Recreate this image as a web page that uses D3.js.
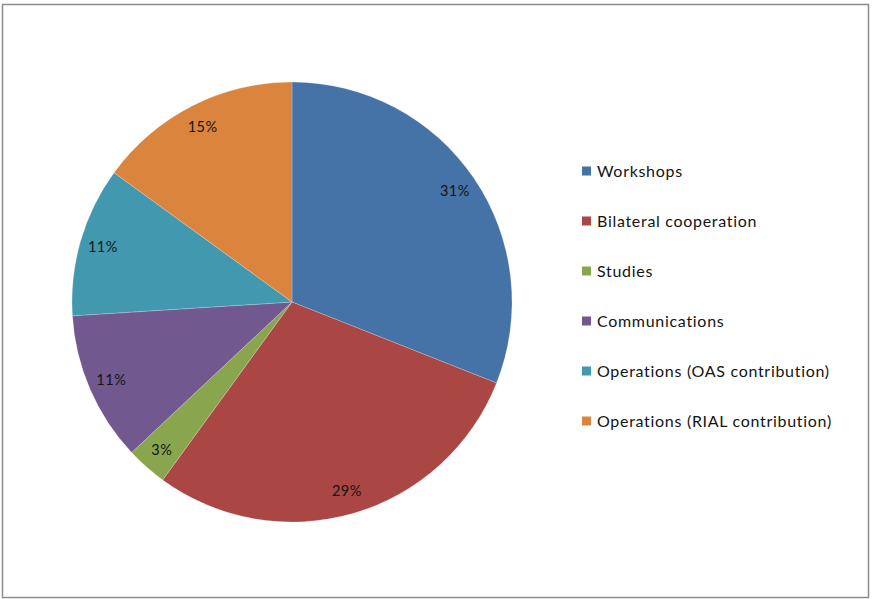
<!DOCTYPE html>
<html>
<head>
<meta charset="utf-8">
<script src="https://cdn.jsdelivr.net/npm/d3@7"></script>
<style>
  body { margin: 0; background: #fff; }
  svg { display: block; }
  text { font-family: Lato, "Open Sans", sans-serif; }
</style>
</head>
<body>
<svg id="chart" width="873" height="599"></svg>
<script>
// slice data, clockwise from 12 o'clock
var categories = ['Workshops', 'Bilateral cooperation', 'Studies', 'Communications',
                  'Operations (OAS contribution)', 'Operations (RIAL contribution)'];
var shares = [31, 29, 3, 11, 11, 15];
var colors = ['#4572a7', '#aa4643', '#89a54e', '#71588f', '#4198af', '#db843d'];

var svg = d3.select('#chart');

// outer frame
svg.append('rect')
    .attr('x', 2.5).attr('y', 4.5)
    .attr('width', 866).attr('height', 593)
    .attr('fill', '#fff')
    .attr('stroke', '#8c8c8c')
    .attr('stroke-width', 1.5);

var cx = 292, cy = 302, radius = 220;

var pie = d3.pie().sort(null).value(function(d) { return d; });
var arc = d3.arc().innerRadius(0).outerRadius(radius);
var labelArc = d3.arc().innerRadius(radius * 0.895).outerRadius(radius * 0.895);

var g = svg.append('g').attr('transform', 'translate(' + cx + ',' + cy + ')');

var slices = g.selectAll('g.slice').data(pie(shares)).enter()
    .append('g').attr('class', 'slice');

slices.append('path')
    .attr('d', arc)
    .attr('fill', function(d, i) { return colors[i]; })
    .attr('stroke', 'rgba(255,255,255,0.35)')
    .attr('stroke-width', 0.6);

slices.append('text')
    .attr('transform', function(d) { return 'translate(' + labelArc.centroid(d) + ')'; })
    .attr('text-anchor', 'middle')
    .attr('dy', '0.35em')
    .attr('font-size', 14.5)
    .attr('letter-spacing', 0.5)
    .attr('fill', '#141414')
    .text(function(d) { return d.data + '%'; });

// legend
var legend = svg.append('g').attr('transform', 'translate(582,171)');

var items = legend.selectAll('g').data(categories).enter()
    .append('g')
    .attr('transform', function(d, i) { return 'translate(0,' + (i * 50) + ')'; });

items.append('rect')
    .attr('x', 0).attr('y', -4.5)
    .attr('width', 9).attr('height', 9)
    .attr('fill', function(d, i) { return colors[i]; });

items.append('text')
    .attr('x', 15)
    .attr('dy', '0.35em')
    .attr('font-size', 16)
    .attr('letter-spacing', 0.7)
    .attr('fill', '#141414')
    .text(function(d) { return d; });
</script>
</body>
</html>
